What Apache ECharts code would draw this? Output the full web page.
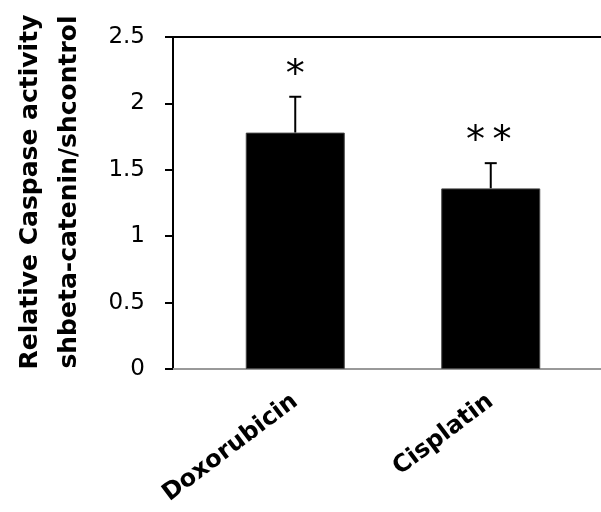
<!DOCTYPE html>
<html><head><meta charset="utf-8">
<script src="https://cdn.jsdelivr.net/npm/echarts@6/dist/echarts.min.js"></script>
<style>html,body{margin:0;padding:0;background:#fff}#c{width:601px;height:512px}</style>
</head><body><div id="c"></div>
<script>
const categories = ['Doxorubicin', 'Cisplatin'];
const values = [1.78, 1.36];
const errorTops = [2.05, 1.55];
const significance = ['*', '**'];
const yTicks = [0, 0.5, 1, 1.5, 2, 2.5];
const yTitle = 'Relative Caspase activity\nshbeta-catenin/shcontrol';

const chart = echarts.init(document.getElementById('c'), null, {renderer: 'canvas'});
const FONT = 'DejaVu Sans';
chart.setOption({
  animation: false,
  grid: [
    {left: 197.5, width: 391, top: 37, height: 332, containLabel: false, outerBoundsMode: 'none'},
    {left: 173, right: 0, top: 37, height: 332, containLabel: false, outerBoundsMode: 'none'}
  ],
  xAxis: [
    {type: 'category', gridIndex: 0, data: categories,
     axisLine: {show: false}, axisTick: {show: false},
     axisLabel: {rotate: 37, margin: 30, color: '#000', fontFamily: FONT, fontWeight: 'bold', fontSize: 24}},
    {type: 'value', gridIndex: 1, min: 0, max: 1, axisLabel: {show: false}, axisTick: {show: false}, splitLine: {show: false},
     axisLine: {show: true, lineStyle: {color: '#999', width: 2}}},
    {type: 'value', gridIndex: 1, position: 'top', min: 0, max: 1, axisLabel: {show: false}, axisTick: {show: false}, splitLine: {show: false},
     axisLine: {show: true, lineStyle: {color: '#000', width: 2}}}
  ],
  yAxis: [
    {type: 'value', gridIndex: 0, min: 0, max: 2.5, interval: 0.5, show: false},
    {type: 'value', gridIndex: 1, min: yTicks[0], max: yTicks[yTicks.length-1], interval: 0.5,
     axisLine: {show: true, lineStyle: {color: '#000', width: 2}},
     axisTick: {show: true, inside: false, length: 8, lineStyle: {color: '#000', width: 2}},
     splitLine: {show: false},
     axisLabel: {margin: 28, color: '#000', fontFamily: FONT, fontSize: 23},
     name: yTitle, nameLocation: 'middle', nameGap: 84, nameRotate: 90,
     nameTextStyle: {color: '#000', fontFamily: FONT, fontWeight: 'bold', fontSize: 25, lineHeight: 39, padding: [0, 0, 0, 22]}}
  ],
  series: [
    {type: 'bar', xAxisIndex: 0, yAxisIndex: 0, data: values, barWidth: 99,
     itemStyle: {color: '#000', borderColor: '#444', borderWidth: 1}},
    {type: 'custom', xAxisIndex: 0, yAxisIndex: 0,
     data: categories.map((c, i) => [i, values[i], errorTops[i]]),
     renderItem: function (params, api) {
       const base = api.coord([api.value(0), api.value(1)]);
       const top = api.coord([api.value(0), api.value(2)]);
       const x = base[0];
       const star = significance[params.dataIndex];
       return {type: 'group', children: [
         {type: 'line', shape: {x1: x, y1: base[1], x2: x, y2: top[1]}, style: {stroke: '#000', lineWidth: 2}},
         {type: 'line', shape: {x1: x - 6, y1: top[1], x2: x + 6, y2: top[1]}, style: {stroke: '#000', lineWidth: 2}},
         {type: 'text', x: x - (star.length - 1) * 2, y: top[1] - 21, style: {text: star.split('').join('\u2009'), fill: '#000', fontFamily: 'DejaVu Sans', fontSize: 38, align: 'center', verticalAlign: 'middle'}}
       ]};
     }}
  ]
});
</script></body></html>
